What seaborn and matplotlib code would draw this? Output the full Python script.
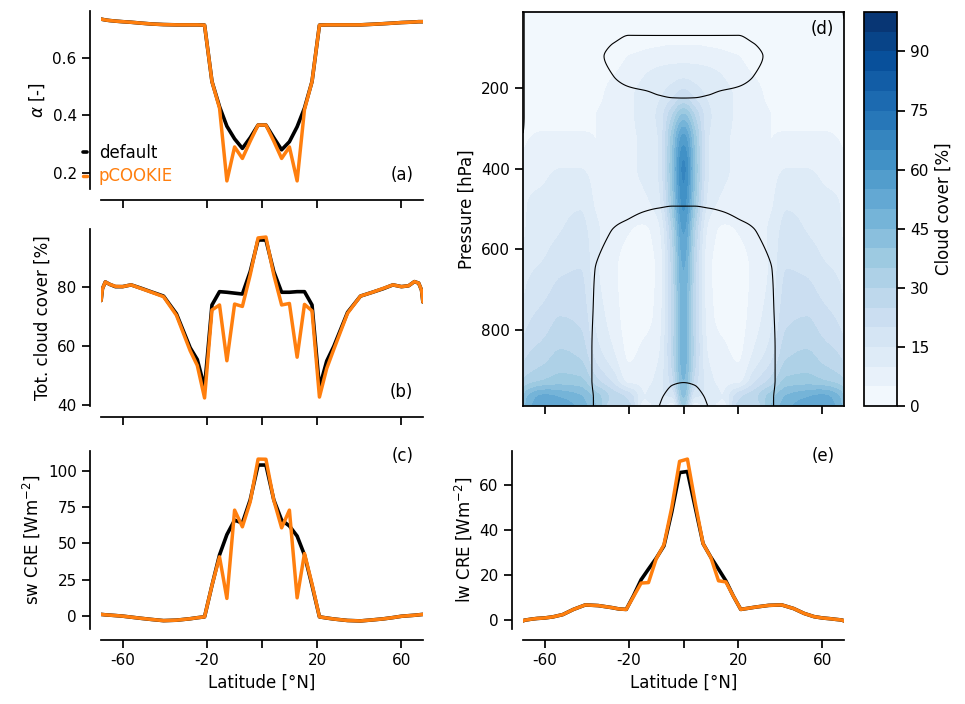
import numpy as np
import pandas as pd
import matplotlib
matplotlib.use("Agg")
import matplotlib.pyplot as plt
import seaborn as sns

# ---------------------------------------------------------------- zonal means
lat = [-87.9, -82.3, -76.7, -71.2, -65.6, -60.0, -54.4, -48.8, -43.3, -37.7,
       -32.1, -26.5, -23.7, -20.9, -18.1, -15.3, -12.6, -9.8, -7.0, -4.2, -1.4,
       1.4, 4.2, 7.0, 9.8, 12.6, 15.3, 18.1, 20.9, 23.7, 26.5, 32.1, 37.7,
       43.3, 48.8, 54.4, 60.0, 65.6, 71.2, 76.7, 82.3, 87.9]

albedo_default = [0.734, 0.733, 0.731, 0.729, 0.727, 0.725, 0.723, 0.720, 0.717, 0.715,
                  0.714, 0.714, 0.714, 0.713, 0.517, 0.430, 0.362, 0.318, 0.285, 0.322, 0.366,
                  0.366, 0.322, 0.280, 0.308, 0.360, 0.425, 0.517, 0.713, 0.714, 0.714, 0.714, 0.714,
                  0.716, 0.718, 0.720, 0.722, 0.723, 0.724, 0.725, 0.725, 0.725]
albedo_pcookie = [0.734, 0.733, 0.731, 0.729, 0.727, 0.725, 0.723, 0.720, 0.717, 0.715,
                  0.714, 0.714, 0.714, 0.713, 0.517, 0.425, 0.172, 0.290, 0.250, 0.310, 0.366,
                  0.366, 0.310, 0.250, 0.290, 0.172, 0.420, 0.517, 0.713, 0.714, 0.714, 0.714, 0.714,
                  0.716, 0.718, 0.720, 0.722, 0.723, 0.724, 0.725, 0.725, 0.725]

tcc_default = [75.5, 79.5, 81.8, 81.0, 80.2, 80.2, 80.8, 79.7, 78.4, 77.0,
               71.0, 59.5, 55.5, 46.0, 74.0, 78.5, 78.3, 78.0, 77.7, 85.3, 96.0,
               96.0, 85.3, 78.3, 78.3, 78.5, 78.5, 74.0, 46.0, 55.0, 60.0, 71.5, 77.0,
               78.3, 79.5, 80.8, 80.2, 80.5, 81.9, 81.4, 79.0, 75.0]
tcc_pcookie = [75.5, 79.5, 81.8, 81.0, 80.3, 80.2, 80.8, 79.6, 78.3, 76.8,
               70.5, 58.5, 53.5, 42.5, 72.3, 74.0, 55.1, 74.3, 73.5, 84.2, 96.7,
               97.0, 84.2, 74.0, 74.5, 56.3, 74.2, 72.0, 42.8, 52.5, 59.0, 71.2, 77.0,
               78.3, 79.6, 80.8, 80.2, 80.5, 81.9, 81.4, 79.0, 75.0]

swcre_default = [1.0, 0.9, 0.7, 0.5, 0.2, -0.2, -0.9, -1.7, -2.5, -3.3,
                 -3.0, -2.0, -1.3, -0.7, 21.0, 42.0, 56.0, 66.0, 64.0, 80.0, 104.0,
                 104.0, 80.0, 66.0, 62.0, 55.0, 42.0, 21.0, -0.7, -1.5, -2.2, -3.2, -3.5,
                 -2.8, -2.1, -1.2, -0.3, 0.1, 0.4, 0.7, 0.9, 1.0]
swcre_pcookie = [1.0, 0.9, 0.7, 0.5, 0.2, -0.2, -0.9, -1.7, -2.5, -3.3,
                 -3.0, -2.0, -1.3, -0.7, 21.0, 40.7, 12.0, 72.9, 61.4, 78.6, 108.1,
                 108.0, 79.7, 60.7, 72.9, 12.4, 43.0, 22.0, -0.7, -1.5, -2.2, -3.2, -3.5,
                 -2.8, -2.1, -1.2, -0.3, 0.1, 0.4, 0.7, 0.9, 1.0]

lwcre_default = [-0.3, 0.0, 0.2, 0.5, 0.8, 1.0, 1.5, 2.5, 4.8, 6.8,
                 6.5, 5.6, 5.0, 4.8, 11.0, 18.0, 22.7, 27.5, 33.0, 48.0, 65.5,
                 66.0, 50.0, 34.0, 28.0, 22.7, 17.5, 10.7, 4.8, 5.3, 5.8, 6.6, 6.8,
                 5.2, 3.0, 1.6, 1.0, 0.7, 0.4, 0.2, 0.0, -0.3]
lwcre_pcookie = [-0.3, 0.0, 0.2, 0.5, 0.8, 1.0, 1.5, 2.5, 4.8, 6.8,
                 6.5, 5.6, 5.0, 4.8, 10.6, 16.5, 16.7, 27.2, 33.5, 50.0, 70.5,
                 71.5, 52.0, 34.0, 27.9, 17.5, 17.0, 10.7, 4.8, 5.3, 5.8, 6.6, 6.8,
                 5.2, 3.0, 1.6, 1.0, 0.7, 0.4, 0.2, 0.0, -0.3]

# ------------------------------------------------- latitude-pressure section
lat_grid = [-88, -75, -60, -50, -40, -33, -26, -20, -14, -9, -4, 0,
            4, 9, 14, 20, 26, 33, 40, 50, 60, 75, 88]
pressure = [10, 70, 120, 170, 220, 270, 330, 400, 480, 560, 650, 750, 850, 925, 970, 990]

cloud_cover = [
    [1, 1, 1, 1, 1, 1, 1, 1, 1, 1, 1, 1, 1, 1, 1, 1, 1, 1, 1, 1, 1, 1, 1],
    [2, 2, 2, 2, 2, 2, 2, 2, 3, 3, 3, 3, 3, 3, 3, 2, 2, 2, 2, 2, 2, 2, 2],
    [2, 2, 2, 2, 2, 2, 3, 5, 6, 7, 8, 8, 8, 7, 6, 5, 3, 2, 2, 2, 2, 2, 2],
    [3, 3, 3, 3, 3, 3, 5, 7, 10, 12, 13, 14, 13, 12, 10, 7, 5, 3, 3, 3, 3, 3, 3],
    [3, 4, 4, 4, 4, 4, 7, 9, 12, 14, 19, 24, 19, 14, 12, 9, 7, 4, 4, 4, 4, 4, 3],
    [3, 4, 4, 4, 4, 5, 7, 9, 12, 16, 30, 42, 30, 16, 12, 9, 7, 5, 4, 4, 4, 4, 3],
    [4, 5, 6, 6, 6, 5, 7, 9, 11, 15, 38, 58, 38, 15, 11, 9, 7, 5, 6, 6, 6, 5, 4],
    [7, 8, 9, 10, 10, 8, 7, 9, 11, 15, 40, 66, 40, 15, 11, 9, 7, 8, 10, 10, 9, 8, 7],
    [8, 10, 11, 13, 14, 9, 6, 7, 9, 13, 37, 62, 37, 13, 9, 7, 6, 9, 14, 13, 11, 10, 8],
    [9, 11, 13, 15, 17, 11, 7, 5, 4, 8, 30, 55, 30, 8, 4, 5, 7, 11, 17, 15, 13, 11, 9],
    [12, 14, 16, 19, 20, 11, 6, 3, 3, 6, 27, 50, 27, 6, 3, 3, 6, 11, 20, 19, 16, 14, 12],
    [16, 18, 21, 24, 23, 13, 7, 3, 3, 7, 26, 48, 26, 7, 3, 3, 7, 13, 23, 24, 21, 18, 16],
    [22, 24, 27, 30, 28, 17, 10, 4, 6, 9, 27, 48, 27, 9, 6, 4, 10, 17, 28, 30, 27, 24, 22],
    [30, 32, 35, 37, 36, 26, 18, 8, 8, 12, 23, 45, 23, 12, 8, 8, 18, 26, 36, 37, 35, 32, 30],
    [40, 46, 52, 50, 46, 38, 28, 24, 10, 15, 14, 40, 14, 15, 10, 24, 28, 38, 46, 50, 52, 46, 40],
    [42, 48, 54, 53, 48, 40, 25, 26, 5, 12, 6, 35, 6, 12, 5, 26, 25, 40, 48, 53, 54, 48, 42],
]

# field whose zero line is overlaid on the cloud cover section
overlay_field = [
    [-0.3, 1, 1, 1, 1, 1, 1, 1, 1, 1, 1, 1, 1, 1, 1, 1, 1, 1, 1, 1, 1, 1, -0.2],
    [-0.3, 1, 1, 1, 1, 1, 0.3, -0.03, -0.03, -0.03, -0.03, -0.03, -0.03, -0.03, -0.03, -0.03, 0.3, 1, 1, 1, 1, 1, 0.5],
    [-0.3, 1, 1, 1, 1, 0.4, -0.4, -0.7, -0.9, -1, -1, -1, -1, -1, -0.9, -0.7, -0.4, 0.4, 1, 1, 1, 1, 1],
    [-0.3, 1, 1, 1, 1, 0.8, 0.02, -0.5, -0.8, -0.9, -1, -1, -1, -0.9, -0.8, -0.5, 0.02, 0.8, 1, 1, 1, 1, 1],
    [-0.3, 1, 1, 1, 1, 1, 0.8, 0.5, 0.3, 0.05, -0.04, -0.05, -0.04, 0.05, 0.3, 0.5, 0.8, 1, 1, 1, 1, 1, 1],
    [-0.3, 1, 1, 1, 1, 1, 1, 0.8, 0.6, 0.5, 0.4, 0.4, 0.4, 0.5, 0.6, 0.8, 1, 1, 1, 1, 1, 1, 1],
    [0.2, 1, 1, 1, 1, 1, 1, 0.8, 0.6, 0.5, 0.4, 0.4, 0.4, 0.5, 0.6, 0.8, 1, 1, 1, 1, 1, 1, 1],
    [1, 1, 1, 1, 1, 1, 0.6, 0.45, 0.35, 0.3, 0.25, 0.25, 0.25, 0.3, 0.35, 0.45, 0.6, 1, 1, 1, 1, 1, 1],
    [1, 1, 1, 1, 1, 0.8, 0.3, 0.2, 0.12, 0.08, 0.05, 0.05, 0.05, 0.08, 0.12, 0.2, 0.3, 0.8, 1, 1, 1, 1, 1],
    [1, 1, 1, 1, 1, 0.4, -0.05, -0.15, -0.25, -0.3, -0.3, -0.3, -0.3, -0.3, -0.25, -0.15, -0.05, 0.4, 1, 1, 1, 1, 1],
    [1, 1, 1, 1, 0.5, -0.03, -0.4, -0.4, -0.4, -0.4, -0.4, -0.4, -0.4, -0.4, -0.4, -0.4, -0.4, -0.03, 0.5, 1, 1, 1, 1],
    [1, 1, 1, 1, 0.5, -0.1, -0.5, -0.5, -0.5, -0.5, -0.5, -0.5, -0.5, -0.5, -0.5, -0.5, -0.5, -0.1, 0.5, 1, 1, 1, 1],
    [1, 1, 1, 1, 0.5, -0.15, -0.5, -0.5, -0.5, -0.5, -0.4, -0.3, -0.4, -0.5, -0.5, -0.5, -0.5, -0.15, 0.5, 1, 1, 1, 1],
    [1, 1, 1, 1, 0.5, -0.15, -0.5, -0.5, -0.5, -0.4, -0.1, -0.05, -0.1, -0.4, -0.5, -0.5, -0.5, -0.15, 0.5, 1, 1, 1, 1],
    [1, 1, 1, 1, 0.5, -0.08, -0.4, -0.4, -0.4, -0.1, 0.25, 0.4, 0.25, -0.1, -0.4, -0.4, -0.4, -0.08, 0.5, 1, 1, 1, 1],
    [1, 1, 1, 1, 0.5, -0.08, -0.4, -0.4, -0.4, -0.02, 0.3, 0.45, 0.3, -0.02, -0.4, -0.4, -0.4, -0.08, 0.5, 1, 1, 1, 1],
]

lat_ticks = [-60, -20, 0, 20, 60]
lat_ticklabels = ["-60", "-20", "", "20", "60"]


# ------------------------------------------------------- smooth regridding
def pchip_1d(x, y, xn):
    """Monotone piecewise-cubic Hermite interpolation of y(x) at xn."""
    x = np.asarray(x, float)
    y = np.asarray(y, float)
    h = np.diff(x)
    delta = np.diff(y) / h
    m = np.zeros_like(y)
    for k in range(1, len(x) - 1):
        if delta[k - 1] * delta[k] > 0:
            w1 = 2 * h[k] + h[k - 1]
            w2 = h[k] + 2 * h[k - 1]
            m[k] = (w1 + w2) / (w1 / delta[k - 1] + w2 / delta[k])
    m[0], m[-1] = delta[0], delta[-1]
    i = np.clip(np.searchsorted(x, xn) - 1, 0, len(x) - 2)
    t = (xn - x[i]) / h[i]
    h00 = 2 * t**3 - 3 * t**2 + 1
    h10 = t**3 - 2 * t**2 + t
    h01 = -2 * t**3 + 3 * t**2
    h11 = t**3 - t**2
    return h00 * y[i] + h10 * h[i] * m[i] + h01 * y[i + 1] + h11 * h[i] * m[i + 1]


def regrid(field, lat_new, p_new):
    f = np.asarray(field, float)
    s_old = np.sin(np.deg2rad(lat_grid))
    s_new = np.sin(np.deg2rad(lat_new))
    tmp = np.array([pchip_1d(s_old, row, s_new) for row in f])
    out = np.array([pchip_1d(pressure, col, p_new) for col in tmp.T]).T
    return out


lat_fine = np.linspace(-88, 88, 353)
p_fine = np.linspace(10, 990, 393)
cc_fine = np.clip(regrid(cloud_cover, lat_fine, p_fine), 0, 100)
ov_fine = regrid(overlay_field, lat_fine, p_fine)

# ---------------------------------------------------------------- styling
sns.set_theme(context="notebook", style="ticks")
plt.rcParams["font.family"] = ["DejaVu Sans"]
plt.rcParams.update({"text.color": "black", "axes.labelcolor": "black",
                     "xtick.color": "black", "ytick.color": "black",
                     "axes.edgecolor": "black"})

C_DEF = "black"
C_PC = "#ff7f0e"


def sin_fwd(x):
    return np.sin(np.deg2rad(np.clip(x, -90, 90)))


def sin_inv(y):
    return np.rad2deg(np.arcsin(np.clip(y, -1, 1)))


W, H = 965, 704
fig = plt.figure(figsize=(W / 100, H / 100), dpi=100)


def rect(x0, y0, x1, y1):
    return [x0 / W, 1 - y1 / H, (x1 - x0) / W, (y1 - y0) / H]


ax_a = fig.add_axes(rect(101, 11, 423, 189))
ax_b = fig.add_axes(rect(101, 229, 423, 406))
ax_c = fig.add_axes(rect(101, 451, 423, 629))
ax_d = fig.add_axes(rect(523, 12, 844, 406))
ax_e = fig.add_axes(rect(523, 451, 844, 629))
cax = fig.add_axes(rect(864, 12, 897, 406))

lines = [
    (ax_a, albedo_default, albedo_pcookie, r"$\alpha$ [-]", [0.2, 0.4, 0.6]),
    (ax_b, tcc_default, tcc_pcookie, "Tot. cloud cover [%]", [40, 60, 80]),
    (ax_c, swcre_default, swcre_pcookie, r"sw CRE [Wm$^{-2}$]", [0, 25, 50, 75, 100]),
    (ax_e, lwcre_default, lwcre_pcookie, r"lw CRE [Wm$^{-2}$]", [0, 20, 40, 60]),
]

for ax, v_def, v_pc, ylab, yt in lines:
    df = pd.DataFrame({"lat": lat, "default": v_def, "pCOOKIE": v_pc})
    sns.lineplot(data=df, x="lat", y="default", color=C_DEF, lw=2.6, ax=ax,
                 label="default" if ax is ax_a else None)
    sns.lineplot(data=df, x="lat", y="pCOOKIE", color=C_PC, lw=2.5, ax=ax,
                 label="pCOOKIE" if ax is ax_a else None)
    ax.set_xscale("function", functions=(sin_fwd, sin_inv))
    ax.set_xlim(-90, 90)
    ax.set_yticks(yt)
    ax.set_ylabel(ylab, fontsize=12)
    if ax in (ax_c, ax_e):
        ax.set_xticks(lat_ticks, lat_ticklabels)
        ax.set_xlabel("Latitude [°N]", fontsize=12)
    else:
        ax.set_xticks(lat_ticks, [""] * len(lat_ticks))
        ax.set_xlabel("")
    ax.minorticks_off()
    sns.despine(ax=ax, offset=8)

ax_a.yaxis.set_major_formatter(matplotlib.ticker.FormatStrFormatter("%.1f"))
ax_a.legend(loc="lower left", bbox_to_anchor=(-0.056, 0.02), frameon=False,
            borderaxespad=0, borderpad=0, handlelength=0.25, handletextpad=0.7,
            labelspacing=0.35, fontsize=12, labelcolor="linecolor")

# ---------------------------------------------------------------- section (d)
cf = ax_d.contourf(lat_fine, p_fine, cc_fine,
                   levels=np.arange(0, 101, 5), cmap="Blues")
ax_d.contour(lat_fine, p_fine, ov_fine, levels=[0],
             colors="black", linewidths=0.8)
ax_d.set_xscale("function", functions=(sin_fwd, sin_inv))
ax_d.set_xlim(-90, 90)
ax_d.set_ylim(990, 10)
ax_d.set_xticks(lat_ticks, [""] * len(lat_ticks))
ax_d.minorticks_off()
ax_d.set_yticks([200, 400, 600, 800])
ax_d.set_ylabel("Pressure [hPa]", fontsize=12)

cb = fig.colorbar(cf, cax=cax, ticks=np.arange(0, 91, 15))
cb.set_label("Cloud cover [%]", fontsize=12)
cb.outline.set_edgecolor("black")

# ---------------------------------------------------------------- panel tags
ax_a.text(0.97, 0.03, "(a)", transform=ax_a.transAxes, ha="right", va="bottom", fontsize=12)
ax_b.text(0.97, 0.03, "(b)", transform=ax_b.transAxes, ha="right", va="bottom", fontsize=12)
ax_c.text(0.97, 1.02, "(c)", transform=ax_c.transAxes, ha="right", va="top", fontsize=12)
ax_d.text(0.97, 0.98, "(d)", transform=ax_d.transAxes, ha="right", va="top", fontsize=12)
ax_e.text(0.97, 1.02, "(e)", transform=ax_e.transAxes, ha="right", va="top", fontsize=12)

fig.savefig("out.png", dpi=100)
